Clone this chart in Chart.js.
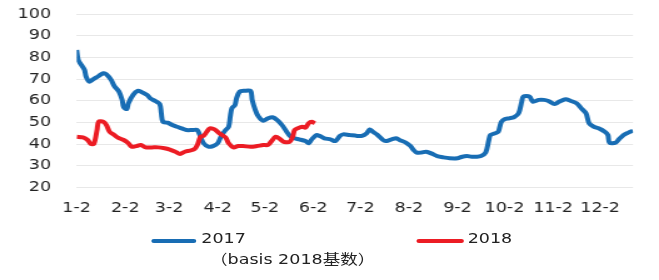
<!DOCTYPE html>
<html>
<head>
<meta charset="utf-8">
<script src="https://cdn.jsdelivr.net/npm/chart.js@4.4.1/dist/chart.umd.min.js"></script>
<style>
    body { margin: 0; background: #fff; overflow: hidden; width: 659px; height: 280px; }
    /* the source picture is stretched sideways, so the whole stage is too */
    #stage {
        position: absolute; left: 0; top: 0; width: 527px; height: 280px;
        transform: scaleX(1.2505); transform-origin: 0 0;
        font-family: "DejaVu Sans", "Noto Sans CJK SC", sans-serif; color: #222;
    }
    #trendChart { position: absolute; left: 0; top: 0; }
    .legend-line { position: absolute; height: 4px; border-radius: 2px; }
    .legend-text { position: absolute; font-size: 14px; line-height: 14px; white-space: nowrap; }
    .cjk { font-family: "Noto Sans CJK SC", sans-serif; }
</style>
</head>
<body>
<div id="stage">
    <canvas id="trendChart" width="527" height="225"></canvas>
    <div class="legend-line" style="left:121px; top:239px; width:36px; background:#186db4;"></div>
    <div class="legend-text" style="left:161px; top:231px;">2017</div>
    <div class="legend-text" style="left:168px; top:251px;"><span class="cjk">（</span>basis 2018<span class="cjk">基数）</span></div>
    <div class="legend-line" style="left:333px; top:239px; width:38px; background:#ec1c24;"></div>
    <div class="legend-text" style="left:374px; top:231px;">2018</div>
</div>

<script>
// x = days since Jan 2
const tickDays = [0, 31, 59, 90, 120, 151, 181, 212, 243, 273, 304, 334];
const tickLabels = ['1-2', '2-2', '3-2', '4-2', '5-2', '6-2', '7-2', '8-2', '9-2', '10-2', '11-2', '12-2'];

const days2017 = [0, 1, 3, 5, 6, 8, 10, 14, 17, 19, 22, 24, 27, 29, 30, 32, 33, 36, 39, 41,
    45, 47, 50, 53, 54, 55, 58, 61, 64, 67, 70, 74, 77, 79, 81, 84, 87, 90, 92, 95,
    97, 98, 99, 101, 102, 104, 107, 111, 112, 114, 116, 119, 122, 125, 128, 131, 134, 136, 139, 142,
    146, 148, 150, 153, 155, 158, 162, 165, 168, 170, 174, 179, 182, 185, 187, 189, 192, 195, 197, 201,
    204, 206, 210, 213, 215, 217, 220, 223, 227, 230, 234, 238, 243, 246, 249, 252, 255, 258, 261, 263,
    264, 267, 269, 270, 271, 273, 276, 279, 282, 284, 285, 289, 291, 295, 298, 301, 305, 308, 312, 315,
    319, 322, 325, 327, 330, 333, 337, 339, 340, 344, 346, 349, 352, 355];
const values2017 = [83.4, 78.8, 76.5, 74.2, 71.1, 68.8, 69.6, 71.4, 72.7, 72.2, 69.6, 66.8, 64.2, 60.4, 57, 56.2, 58.8, 62.7, 64.6, 64.2,
    62.7, 61.1, 59.9, 58.5, 54.2, 50.3, 49.9, 48.8, 48, 47.3, 46.5, 46.5, 46.5, 43.4, 40.4, 38.8, 39.1, 40.4, 43.4, 46.5,
    48, 52.7, 56.5, 58, 61.1, 64.2, 64.6, 64.5, 60.4, 55.7, 52.7, 50.8, 51.9, 52.4, 51.1, 48.8, 45.7, 43.8, 42.7, 42.2,
    41.4, 40.4, 42.2, 44.2, 43.8, 42.7, 42.2, 41.4, 43.8, 44.5, 44.2, 43.8, 43.8, 45, 46.8, 45.7, 44.2, 42.2, 41.4, 42.2,
    42.7, 41.9, 40.7, 39.1, 37.3, 36.1, 36.1, 36.5, 35.5, 34.5, 33.9, 33.5, 33.5, 34.2, 34.5, 34.2, 34.2, 34.5, 36.1, 41.9,
    44.2, 45, 45.7, 48, 50.3, 51.5, 51.9, 52.4, 54.2, 59.6, 61.9, 61.9, 59.6, 60.4, 60.4, 59.9, 58.5, 59.6, 60.7, 60,
    58.8, 56.5, 54.2, 49.6, 48, 47.3, 45.7, 44.2, 40.7, 40.7, 42.2, 44.2, 45.3, 46.2];

const days2018 = [0, 4, 7, 9, 11, 13, 14, 17, 19, 21, 24, 26, 30, 33, 35, 38, 41, 44, 48, 52,
    56, 59, 63, 66, 69, 72, 75, 77, 79, 81, 83, 85, 88, 91, 95, 97, 100, 103, 106, 111,
    115, 119, 122, 124, 127, 130, 132, 136, 138, 139, 141, 144, 146, 148, 150, 152];
const values2018 = [43.4, 43.1, 41.9, 40.1, 40.1, 46.5, 50.3, 50.3, 48.8, 45.7, 44.2, 43.1, 41.9, 40.4, 38.8, 39.1, 39.6, 38.5, 38.5, 38.5,
    38.1, 37.6, 36.5, 35.5, 36.5, 37, 37.6, 39.6, 43.4, 43.8, 45.7, 47.3, 46.8, 45, 43.1, 40.4, 38.5, 39.1, 39.1, 38.8,
    39.1, 39.6, 39.6, 41.1, 43.4, 42.2, 41.1, 41.1, 43.8, 46.5, 47.3, 48, 47.6, 49.6, 50.3, 49.6];

const blue = '#186db4';
const red = '#ec1c24';
const tickFont = { family: 'DejaVu Sans', size: 14 };

document.addEventListener('DOMContentLoaded', () => {
    const ctx = document.getElementById('trendChart').getContext('2d');

    const toPoints = (days, vals) => days.map((d, i) => ({ x: d, y: vals[i] }));

    new Chart(ctx, {
        type: 'line',
        data: {
            datasets: [{
                label: '2017',
                data: toPoints(days2017, values2017),
                borderColor: blue,
                borderWidth: 4,
                pointRadius: 0,
                tension: 0.3,
                fill: false,
                order: 1
            }, {
                label: '2018',
                data: toPoints(days2018, values2018),
                borderColor: red,
                borderWidth: 4,
                pointRadius: 0,
                tension: 0.3,
                fill: false,
                order: 0
            }]
        },
        options: {
            responsive: false,
            animation: false,
            devicePixelRatio: 1,
            layout: { padding: { top: 0, right: 20.8, left: 0, bottom: 0 } },
            plugins: {
                legend: { display: false },
                tooltip: { enabled: false }
            },
            scales: {
                x: {
                    type: 'linear',
                    min: 0,
                    max: 355,
                    grid: { display: false, drawTicks: false },
                    border: { display: false },
                    afterBuildTicks: (scale) => {
                        scale.ticks = tickDays.map(v => ({ value: v }));
                    },
                    afterFit: (scale) => { scale.height = 37.5; },
                    ticks: {
                        padding: 12,
                        autoSkip: false,
                        maxRotation: 0,
                        font: tickFont,
                        color: '#222',
                        callback: (v, i) => tickLabels[i]
                    }
                },
                y: {
                    min: 20,
                    max: 100,
                    grid: { color: '#e8e8e8', drawTicks: false },
                    border: { display: false },
                    afterFit: (scale) => {
                        scale.width = 61.3;
                        scale.paddingTop = 14;
                    },
                    ticks: {
                        stepSize: 10,
                        padding: 20.5,
                        font: tickFont,
                        color: '#222'
                    }
                }
            }
        }
    });
});
</script>
</body>
</html>
